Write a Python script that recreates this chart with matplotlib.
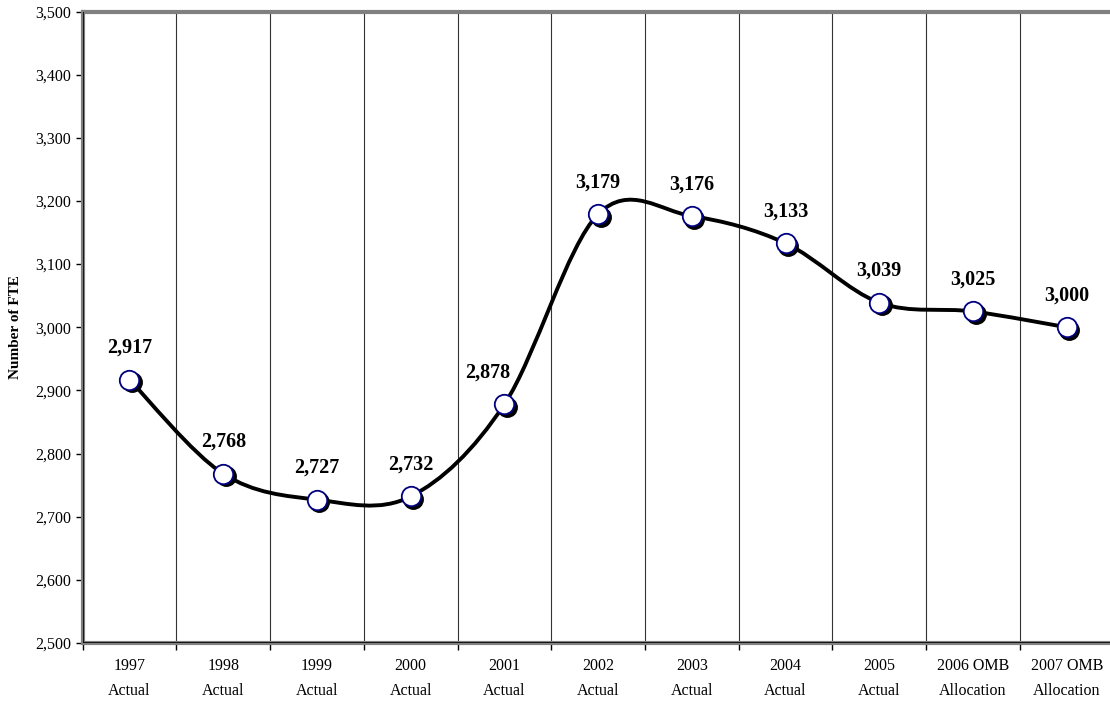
import matplotlib.pyplot as plt
import matplotlib.transforms as mtransforms
from matplotlib.path import Path
from matplotlib.patches import PathPatch
from matplotlib.ticker import FuncFormatter, MultipleLocator

## -----------------------------------------------------------------------------
## FTE levels, 1997 - 2007
## -----------------------------------------------------------------------------

plt.rcParams["font.family"] = ["Liberation Serif", "DejaVu Serif"]

categories = ["1997\nActual", "1998\nActual", "1999\nActual", "2000\nActual",
              "2001\nActual", "2002\nActual", "2003\nActual", "2004\nActual",
              "2005\nActual", "2006 OMB\nAllocation", "2007 OMB\nAllocation"]
fte = [2917, 2768, 2727, 2732, 2878, 3179, 3176, 3133, 3039, 3025, 3000]

## -----------------------------------------------------------------------------
fig = plt.figure(figsize=(11.10, 7.02), dpi=100)
ax = fig.add_axes([82.6/1110, 59/702, 1031/1110, 631.5/702])

x = list(range(len(fte)))
ax.set_xlim(-0.5, len(fte) - 0.5)
ax.set_ylim(2500, 3500)

# smoothed line (Excel style bezier through the points)
verts = [(x[0], fte[0])]
codes = [Path.MOVETO]
n = len(fte)
for i in range(n - 1):
    p0 = (x[max(i-1, 0)], fte[max(i-1, 0)])
    p1 = (x[i], fte[i])
    p2 = (x[i+1], fte[i+1])
    p3 = (x[min(i+2, n-1)], fte[min(i+2, n-1)])
    c1 = (p1[0] + (p2[0]-p0[0])/6, p1[1] + (p2[1]-p0[1])/6)
    c2 = (p2[0] - (p3[0]-p1[0])/6, p2[1] - (p3[1]-p1[1])/6)
    verts += [c1, c2, p2]
    codes += [Path.CURVE4]*3
ax.add_patch(PathPatch(Path(verts, codes), facecolor="none", edgecolor="black",
                       lw=2.8, zorder=3, capstyle="round", joinstyle="round"))

# marker shadow then markers
shadow = ax.transData + mtransforms.ScaledTranslation(2.5/100, -2.5/100, fig.dpi_scale_trans)
ax.plot(x, fte, "o", ms=14, color="black", transform=shadow, zorder=4)
ax.plot(x, fte, "o", ms=14, mfc="white", mec="#000080", mew=1.3, zorder=5)

for xi, v in zip(x, fte):
    dx = -12 if v == 2878 else 0  # label nudged left of the rising line
    ax.annotate(f"{v:,}", (xi, v), xytext=(dx, 23), textcoords="offset points",
                ha="center", va="center", fontsize=14.5, fontweight="bold")

# vertical separators between categories
for b in range(1, n):
    ax.axvline(b - 0.5, color="#333333", lw=0.8, zorder=1)

ax.set_xticks([b - 0.5 for b in range(n + 1)])
ax.set_xticklabels([])
ax.set_xticks(x, minor=True)
ax.set_xticklabels(categories, minor=True, fontsize=11.5, linespacing=1.75)
ax.tick_params(axis="x", which="minor", length=0, pad=11)
ax.tick_params(axis="x", which="major", length=5, width=1, color="black", direction="out")

ax.yaxis.set_major_locator(MultipleLocator(100))
ax.yaxis.set_major_formatter(FuncFormatter(lambda v, p: f"{int(v):,}"))
ax.tick_params(axis="y", length=5, width=1, color="black", direction="out", labelsize=11.5, pad=3)
ax.set_ylabel("Number of FTE", fontsize=11, fontweight="bold", labelpad=10)

for s in ax.spines.values():
    s.set_color("#808080")
    s.set_linewidth(3)
ax.axvline(-0.5, color="black", lw=1.2, zorder=6)
ax.axhline(2500, color="black", lw=1.2, zorder=6)

fig.savefig("out.png", dpi=100)
